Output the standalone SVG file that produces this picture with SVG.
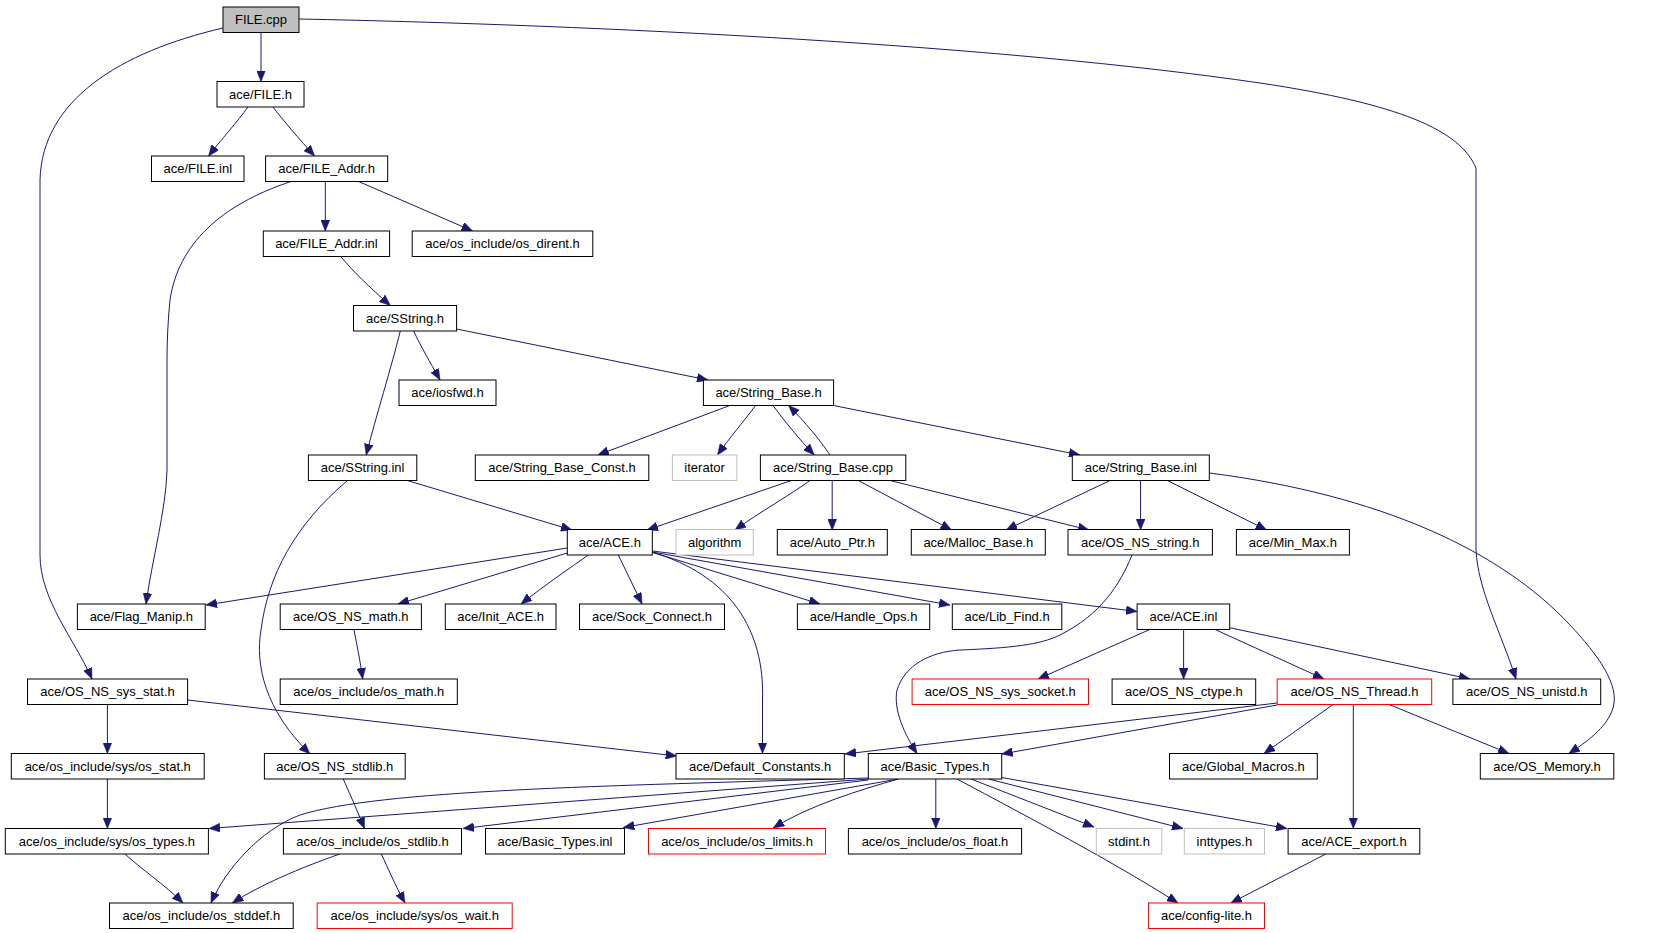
<svg xmlns="http://www.w3.org/2000/svg" width="1656" height="933" viewBox="0 0 1656 933">
<style>
  .box{fill:#ffffff;stroke:#000000;stroke-width:1}
  .gray{fill:#ffffff;stroke:#bfbfbf;stroke-width:1}
  .red{fill:#ffffff;stroke:#ff0000;stroke-width:1}
  .root{fill:#bfbfbf;stroke:#000000;stroke-width:1}
  text{font-family:"Liberation Sans",Arial,Helvetica,sans-serif;font-size:13px;fill:#000000;text-anchor:middle}
  .edge{fill:none;stroke:#191970;stroke-width:1;marker-end:url(#arrow)}
</style>
<defs>
  <marker id="arrow" markerUnits="userSpaceOnUse" markerWidth="11" markerHeight="9" viewBox="0 0 11 9" refX="11" refY="4.5" orient="auto">
    <path d="M0,0 L11,4.5 L0,9 Z" fill="#191970" stroke="#191970" stroke-width="0.5"/>
  </marker>
</defs>
<rect x="0" y="0" width="1656" height="933" fill="#ffffff"/>
<g id="edges">
  <path class="edge" d="M261,32.5 L261,81.5"/>
  <path class="edge" d="M223,28 C120,52 42,100 40,180 L40,555 C40,600 75,640 92,679"/>
  <path class="edge" d="M299,19 C600,25 1000,45 1260,83 C1400,104 1460,130 1476,168 L1476,550 C1478,590 1500,630 1516,679"/>
  <path class="edge" d="M248,107 C238,121 220,141 208.6,156"/>
  <path class="edge" d="M273,107 C282,119 300,140 314.6,156"/>
  <path class="edge" d="M325.3,181.5 L325.3,231"/>
  <path class="edge" d="M358.6,181.5 L472.6,231"/>
  <path class="edge" d="M291,181.5 C220,205 178,245 170,300 C168,320 167,340 167,360 L167,470 C166,510 152,560 146,604"/>
  <path class="edge" d="M340.6,256.5 C352,270 370,288 390.4,305.5"/>
  <path class="edge" d="M413.7,331 C420,345 430,362 440,380"/>
  <path class="edge" d="M400.3,331 C392,365 375,420 366.2,455"/>
  <path class="edge" d="M456.6,329 L708,380"/>
  <path class="edge" d="M407.3,480.5 L572,530"/>
  <path class="edge" d="M347.5,480.5 C295,525 268,575 261,630 C255,665 265,710 310,754"/>
  <path class="edge" d="M729.8,405.5 L597.8,455"/>
  <path class="edge" d="M755.5,405.5 C745,420 730,437 717.5,455"/>
  <path class="edge" d="M773,405.5 C785,422 800,440 814.3,455"/>
  <path class="edge" d="M830,455 C820,440 805,422 788.6,405.5"/>
  <path class="edge" d="M833.6,405.5 L1080,455"/>
  <path class="edge" d="M791.4,480.5 L647,530"/>
  <path class="edge" d="M810,480.5 C790,495 760,512 735,530"/>
  <path class="edge" d="M832.2,480.5 L832.2,530"/>
  <path class="edge" d="M858.3,480.5 L951.6,530"/>
  <path class="edge" d="M890,480.5 L1089,530"/>
  <path class="edge" d="M1110,480.5 L1006,530"/>
  <path class="edge" d="M1140.6,480.5 L1140.6,530"/>
  <path class="edge" d="M1167.4,480.5 L1266.6,530"/>
  <path class="edge" d="M1209.6,473 C1380,495 1500,550 1570,625 C1598,655 1620,685 1613,708 C1607,728 1585,743 1568.8,753.5"/>
  <path class="edge" d="M1132,555 C1120,585 1100,615 1060,635 C1040,645 1010,648 960,650 C930,652 905,665 897,690 C893,710 905,735 917,753.5"/>
  <path class="edge" d="M567.3,548 L206,605"/>
  <path class="edge" d="M567.3,553 L398,604"/>
  <path class="edge" d="M588.3,555 C570,568 545,585 521,604"/>
  <path class="edge" d="M618.3,555 L642,604"/>
  <path class="edge" d="M652.3,552.3 C730,575 765,630 762.5,700 L762.5,753.5"/>
  <path class="edge" d="M652.3,552.3 L820,604"/>
  <path class="edge" d="M652.3,552 L950,605"/>
  <path class="edge" d="M652.3,551 L1137,611.5"/>
  <path class="edge" d="M1149.8,629.5 L1038,679"/>
  <path class="edge" d="M1183.6,629.5 L1183.6,679"/>
  <path class="edge" d="M1215,629.5 L1324,679"/>
  <path class="edge" d="M1229.7,627.7 L1470,679"/>
  <path class="edge" d="M1277.2,703 L845,754"/>
  <path class="edge" d="M1277.2,705 L1001.7,754"/>
  <path class="edge" d="M1333,704.5 L1264,753.5"/>
  <path class="edge" d="M1353.3,704.5 L1353.3,828.5"/>
  <path class="edge" d="M1389,704.5 L1509,753.5"/>
  <path class="edge" d="M107.4,704.5 L107.4,753.5"/>
  <path class="edge" d="M187.6,700 L676.7,756"/>
  <path class="edge" d="M107.4,779 L107.4,828.5"/>
  <path class="edge" d="M353.9,629.5 C357,645 360,660 362.7,679"/>
  <path class="edge" d="M343.3,779 C348,790 355,805 364.4,828.5"/>
  <path class="edge" d="M125,854 C140,868 165,885 183,903"/>
  <path class="edge" d="M339.8,854 C300,868 260,885 232.4,903"/>
  <path class="edge" d="M381.3,854 C388,868 395,885 405,903"/>
  <path class="edge" d="M868.3,778 C600,786 380,790 300,815 C260,830 225,870 211,903"/>
  <path class="edge" d="M868.3,779 L209,828.5"/>
  <path class="edge" d="M868.3,780 L463,828.5"/>
  <path class="edge" d="M898.3,779 L623.3,827.5"/>
  <path class="edge" d="M898.3,779 C860,790 810,805 773.3,828"/>
  <path class="edge" d="M935.8,779 L935.8,828.5"/>
  <path class="edge" d="M971,779 L1094,827"/>
  <path class="edge" d="M988.6,779 L1183,828.5"/>
  <path class="edge" d="M1001.7,777.5 L1287,828.5"/>
  <path class="edge" d="M957,779 C1030,818 1110,860 1178,903"/>
  <path class="edge" d="M1325.8,854 L1230.8,903"/>
</g>
<g id="n_FILE_cpp"><rect class="root" x="223" y="7" width="76" height="25.5"/><text x="261" y="24.3">FILE.cpp</text></g>
<g id="n_FILE_h"><rect class="box" x="217" y="81.5" width="87" height="25.5"/><text x="260.5" y="98.8">ace/FILE.h</text></g>
<g id="n_FILE_inl"><rect class="box" x="151.5" y="156" width="92.5" height="25.5"/><text x="197.75" y="173.3">ace/FILE.inl</text></g>
<g id="n_FILE_Addr_h"><rect class="box" x="265.6" y="156" width="122.1" height="25.5"/><text x="326.65" y="173.3">ace/FILE_Addr.h</text></g>
<g id="n_FILE_Addr_inl"><rect class="box" x="263.3" y="231" width="126.3" height="25.5"/><text x="326.45" y="248.3">ace/FILE_Addr.inl</text></g>
<g id="n_os_dirent"><rect class="box" x="412.2" y="231" width="180.6" height="25.5"/><text x="502.5" y="248.3">ace/os_include/os_dirent.h</text></g>
<g id="n_SString_h"><rect class="box" x="353.5" y="305.5" width="103.1" height="25.5"/><text x="405.05" y="322.8">ace/SString.h</text></g>
<g id="n_iosfwd"><rect class="box" x="399" y="380" width="97" height="25.5"/><text x="447.5" y="397.3">ace/iosfwd.h</text></g>
<g id="n_String_Base_h"><rect class="box" x="703.4" y="380" width="130.2" height="25.5"/><text x="768.5" y="397.3">ace/String_Base.h</text></g>
<g id="n_SString_inl"><rect class="box" x="308.4" y="455" width="108.4" height="25.5"/><text x="362.6" y="472.3">ace/SString.inl</text></g>
<g id="n_String_Base_Const"><rect class="box" x="475.3" y="455" width="173.5" height="25.5"/><text x="562.05" y="472.3">ace/String_Base_Const.h</text></g>
<g id="n_iterator"><rect class="gray" x="672.4" y="455" width="64.4" height="25.5"/><text x="704.6" y="472.3">iterator</text></g>
<g id="n_String_Base_cpp"><rect class="box" x="760.4" y="455" width="145.4" height="25.5"/><text x="833.1" y="472.3">ace/String_Base.cpp</text></g>
<g id="n_String_Base_inl"><rect class="box" x="1072.3" y="455" width="137" height="25.5"/><text x="1140.8" y="472.3">ace/String_Base.inl</text></g>
<g id="n_ACE_h"><rect class="box" x="567.3" y="529.5" width="85" height="25.5"/><text x="609.8" y="546.8">ace/ACE.h</text></g>
<g id="n_algorithm"><rect class="gray" x="676" y="529.5" width="77.3" height="25.5"/><text x="714.65" y="546.8">algorithm</text></g>
<g id="n_Auto_Ptr"><rect class="box" x="777.3" y="529.5" width="110" height="25.5"/><text x="832.3" y="546.8">ace/Auto_Ptr.h</text></g>
<g id="n_Malloc_Base"><rect class="box" x="911.3" y="529.5" width="134" height="25.5"/><text x="978.3" y="546.8">ace/Malloc_Base.h</text></g>
<g id="n_OS_NS_string"><rect class="box" x="1068" y="529.5" width="144.4" height="25.5"/><text x="1140.2" y="546.8">ace/OS_NS_string.h</text></g>
<g id="n_Min_Max"><rect class="box" x="1236.4" y="529.5" width="113" height="25.5"/><text x="1292.9" y="546.8">ace/Min_Max.h</text></g>
<g id="n_Flag_Manip"><rect class="box" x="77.4" y="604" width="127.8" height="25.5"/><text x="141.3" y="621.3">ace/Flag_Manip.h</text></g>
<g id="n_OS_NS_math"><rect class="box" x="280.2" y="604" width="141.2" height="25.5"/><text x="350.8" y="621.3">ace/OS_NS_math.h</text></g>
<g id="n_Init_ACE"><rect class="box" x="445.3" y="604" width="110.7" height="25.5"/><text x="500.65" y="621.3">ace/Init_ACE.h</text></g>
<g id="n_Sock_Connect"><rect class="box" x="579.5" y="604" width="145" height="25.5"/><text x="652" y="621.3">ace/Sock_Connect.h</text></g>
<g id="n_Handle_Ops"><rect class="box" x="797.4" y="604" width="132.3" height="25.5"/><text x="863.55" y="621.3">ace/Handle_Ops.h</text></g>
<g id="n_Lib_Find"><rect class="box" x="952.3" y="604" width="109.5" height="25.5"/><text x="1007.05" y="621.3">ace/Lib_Find.h</text></g>
<g id="n_ACE_inl"><rect class="box" x="1137.1" y="604" width="92.6" height="25.5"/><text x="1183.4" y="621.3">ace/ACE.inl</text></g>
<g id="n_OS_NS_sys_stat"><rect class="box" x="27.5" y="679" width="160.1" height="25.5"/><text x="107.55" y="696.3">ace/OS_NS_sys_stat.h</text></g>
<g id="n_os_math"><rect class="box" x="280.2" y="679" width="177.1" height="25.5"/><text x="368.75" y="696.3">ace/os_include/os_math.h</text></g>
<g id="n_OS_NS_sys_socket"><rect class="red" x="912.1" y="679" width="176.4" height="25.5"/><text x="1000.3" y="696.3">ace/OS_NS_sys_socket.h</text></g>
<g id="n_OS_NS_ctype"><rect class="box" x="1112.1" y="679" width="143.6" height="25.5"/><text x="1183.9" y="696.3">ace/OS_NS_ctype.h</text></g>
<g id="n_OS_NS_Thread"><rect class="red" x="1277.2" y="679" width="154.5" height="25.5"/><text x="1354.45" y="696.3">ace/OS_NS_Thread.h</text></g>
<g id="n_OS_NS_unistd"><rect class="box" x="1452.9" y="679" width="147.8" height="25.5"/><text x="1526.8" y="696.3">ace/OS_NS_unistd.h</text></g>
<g id="n_os_stat"><rect class="box" x="11.3" y="753.5" width="192.9" height="25.5"/><text x="107.75" y="770.8">ace/os_include/sys/os_stat.h</text></g>
<g id="n_OS_NS_stdlib"><rect class="box" x="264.4" y="753.5" width="140.8" height="25.5"/><text x="334.8" y="770.8">ace/OS_NS_stdlib.h</text></g>
<g id="n_Default_Constants"><rect class="box" x="676" y="753.5" width="168.3" height="25.5"/><text x="760.15" y="770.8">ace/Default_Constants.h</text></g>
<g id="n_Basic_Types_h"><rect class="box" x="868.3" y="753.5" width="133.4" height="25.5"/><text x="935" y="770.8">ace/Basic_Types.h</text></g>
<g id="n_Global_Macros"><rect class="box" x="1169.5" y="753.5" width="147.8" height="25.5"/><text x="1243.4" y="770.8">ace/Global_Macros.h</text></g>
<g id="n_OS_Memory"><rect class="box" x="1480.3" y="753.5" width="133.5" height="25.5"/><text x="1547.05" y="770.8">ace/OS_Memory.h</text></g>
<g id="n_os_types"><rect class="box" x="5.3" y="828.5" width="203.1" height="25.5"/><text x="106.85" y="845.8">ace/os_include/sys/os_types.h</text></g>
<g id="n_os_stdlib"><rect class="box" x="283.4" y="828.5" width="178.1" height="25.5"/><text x="372.45" y="845.8">ace/os_include/os_stdlib.h</text></g>
<g id="n_Basic_Types_inl"><rect class="box" x="485.5" y="828.5" width="139" height="25.5"/><text x="555" y="845.8">ace/Basic_Types.inl</text></g>
<g id="n_os_limits"><rect class="red" x="648.5" y="828.5" width="177" height="25.5"/><text x="737" y="845.8">ace/os_include/os_limits.h</text></g>
<g id="n_os_float"><rect class="box" x="848.4" y="828.5" width="173.2" height="25.5"/><text x="935" y="845.8">ace/os_include/os_float.h</text></g>
<g id="n_stdint"><rect class="gray" x="1096.3" y="828.5" width="65.4" height="25.5"/><text x="1129" y="845.8">stdint.h</text></g>
<g id="n_inttypes"><rect class="gray" x="1184.3" y="828.5" width="80.2" height="25.5"/><text x="1224.4" y="845.8">inttypes.h</text></g>
<g id="n_ACE_export"><rect class="box" x="1288.1" y="828.5" width="131.7" height="25.5"/><text x="1353.95" y="845.8">ace/ACE_export.h</text></g>
<g id="n_os_stddef"><rect class="box" x="109.5" y="903" width="183.7" height="25.5"/><text x="201.35" y="920.3">ace/os_include/os_stddef.h</text></g>
<g id="n_os_wait"><rect class="red" x="317.2" y="903" width="195" height="25.5"/><text x="414.7" y="920.3">ace/os_include/sys/os_wait.h</text></g>
<g id="n_config_lite"><rect class="red" x="1148.4" y="903" width="116.1" height="25.5"/><text x="1206.45" y="920.3">ace/config-lite.h</text></g>
</svg>
